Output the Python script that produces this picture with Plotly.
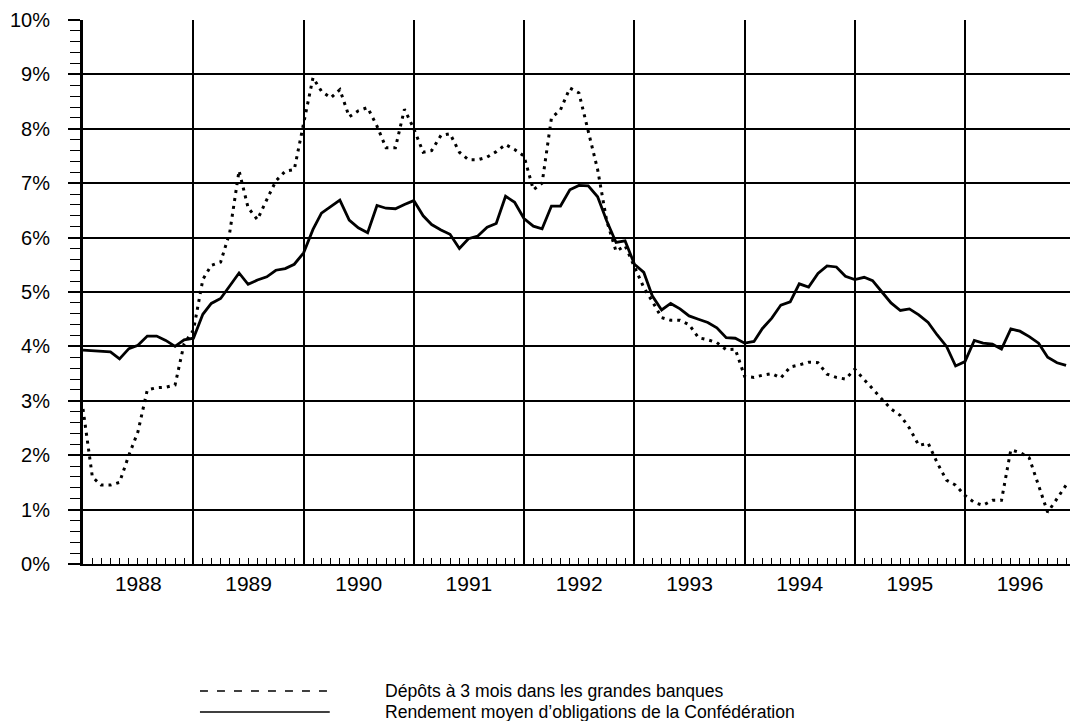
import pandas as pd
import plotly.graph_objects as go

# Monthly observations, January 1988 - December 1996
months = pd.date_range("1988-01-01", periods=108, freq="MS")

# Dépôts à 3 mois dans les grandes banques (%)
depots_3m = [
    2.85, 1.60, 1.45, 1.45, 1.50, 2.00, 2.43, 3.20, 3.24, 3.25, 3.29, 4.05,
    4.30, 5.23, 5.49, 5.55, 6.09, 7.23, 6.55, 6.33, 6.70, 7.04, 7.22, 7.25,
    8.10, 8.94, 8.69, 8.57, 8.72, 8.22, 8.33, 8.39, 8.05, 7.65, 7.65, 8.36,
    8.00, 7.57, 7.60, 7.88, 7.91, 7.57, 7.43, 7.43, 7.48, 7.58, 7.71, 7.62,
    7.50, 6.88, 7.00, 8.20, 8.35, 8.75, 8.66, 7.95, 7.25, 6.31, 5.75, 5.85,
    5.45, 5.08, 4.83, 4.53, 4.48, 4.48, 4.40, 4.16, 4.12, 4.07, 3.94, 3.95,
    3.45, 3.43, 3.47, 3.50, 3.42, 3.62, 3.66, 3.71, 3.70, 3.49, 3.43, 3.40,
    3.58, 3.40, 3.22, 3.03, 2.85, 2.73, 2.50, 2.18, 2.22, 1.86, 1.54, 1.45,
    1.26, 1.13, 1.08, 1.17, 1.17, 2.10, 2.05, 1.95, 1.45, 0.95, 1.20, 1.45,
]

# Rendement moyen d'obligations de la Confédération (%)
obligations = [
    3.93, 3.92, 3.91, 3.90, 3.77, 3.96, 4.02, 4.19, 4.19, 4.11, 4.00, 4.12,
    4.15, 4.59, 4.79, 4.88, 5.11, 5.35, 5.14, 5.22, 5.28, 5.40, 5.43, 5.51,
    5.72, 6.15, 6.45, 6.57, 6.69, 6.32, 6.18, 6.09, 6.59, 6.54, 6.53, 6.61,
    6.68, 6.40, 6.24, 6.14, 6.06, 5.80, 5.98, 6.03, 6.19, 6.26, 6.76, 6.65,
    6.35, 6.21, 6.16, 6.58, 6.58, 6.88, 6.96, 6.95, 6.75, 6.31, 5.91, 5.94,
    5.51, 5.36, 4.93, 4.67, 4.79, 4.69, 4.56, 4.50, 4.44, 4.34, 4.16, 4.15,
    4.06, 4.09, 4.33, 4.52, 4.76, 4.82, 5.15, 5.09, 5.34, 5.48, 5.46, 5.29,
    5.23, 5.27, 5.21, 5.00, 4.80, 4.66, 4.69, 4.58, 4.44, 4.21, 4.00, 3.64,
    3.72, 4.11, 4.06, 4.04, 3.95, 4.32, 4.28, 4.18, 4.06, 3.80, 3.70, 3.65,
]

series_names = [
    "Dépôts à 3 mois dans les grandes banques",
    "Rendement moyen d\u2019obligations de la Confédération",
]

FONT = "Liberation Sans, Arial, Helvetica, sans-serif"

fig = go.Figure()
fig.add_trace(go.Scatter(
    x=months, y=depots_3m, mode="lines", name=series_names[0],
    line=dict(color="black", width=3, dash="3px,5px"), showlegend=False,
))
fig.add_trace(go.Scatter(
    x=months, y=obligations, mode="lines", name=series_names[1],
    line=dict(color="black", width=2.8), showlegend=False,
))

# Legend drawn below the chart (long line samples as in the original)
fig.add_shape(type="line", xref="paper", yref="paper",
              x0=0.1185, x1=0.25, y0=-0.2335, y1=-0.2335,
              line=dict(color="black", width=1.5, dash="8px,9px"))
fig.add_shape(type="line", xref="paper", yref="paper",
              x0=0.1185, x1=0.25, y0=-0.272, y1=-0.272,
              line=dict(color="black", width=1.5))
fig.add_annotation(xref="paper", yref="paper", x=0.304, y=-0.2335,
                   text=series_names[0], showarrow=False, xanchor="left",
                   yanchor="middle", font=dict(size=17.6, color="black", family=FONT))
fig.add_annotation(xref="paper", yref="paper", x=0.304, y=-0.272,
                   text=series_names[1], showarrow=False, xanchor="left",
                   yanchor="middle", font=dict(size=17.6, color="black", family=FONT))

fig.update_layout(
    width=1070, height=721,
    margin=dict(l=83, r=0, t=20, b=157),
    paper_bgcolor="white", plot_bgcolor="white",
    font=dict(family=FONT, color="black", size=20),
    xaxis=dict(
        type="date",
        range=["1988-01-01", "1996-12-14"],
        tick0="1988-01-01", dtick="M12", tickformat="%Y",
        ticklabelmode="period",
        ticks="", showgrid=True, gridcolor="black", gridwidth=1.5,
        showline=True, linecolor="black", linewidth=1.5,
        zeroline=False,
        tickfont=dict(size=21),
        minor=dict(dtick="M1", tick0="1988-01-01", ticks="inside",
                   ticklen=6, tickwidth=1.2, tickcolor="black", showgrid=False),
    ),
    yaxis=dict(
        range=[0, 10], dtick=1, ticksuffix="%",
        showgrid=True, gridcolor="black", gridwidth=1.5,
        showline=True, linecolor="black", linewidth=3,
        zeroline=False,
        ticks="outside", ticklen=12, tickwidth=1.5, tickcolor="black",
        ticklabelstandoff=14,
        tickfont=dict(size=20),
        minor=dict(dtick=0.2, ticks="outside", ticklen=10, tickwidth=1.2,
                   tickcolor="black", showgrid=False),
    ),
)

fig.write_html(
    "out.html",
    config={"displayModeBar": False},
    post_script="document.body.style.margin='0';document.body.style.padding='0';",
)
